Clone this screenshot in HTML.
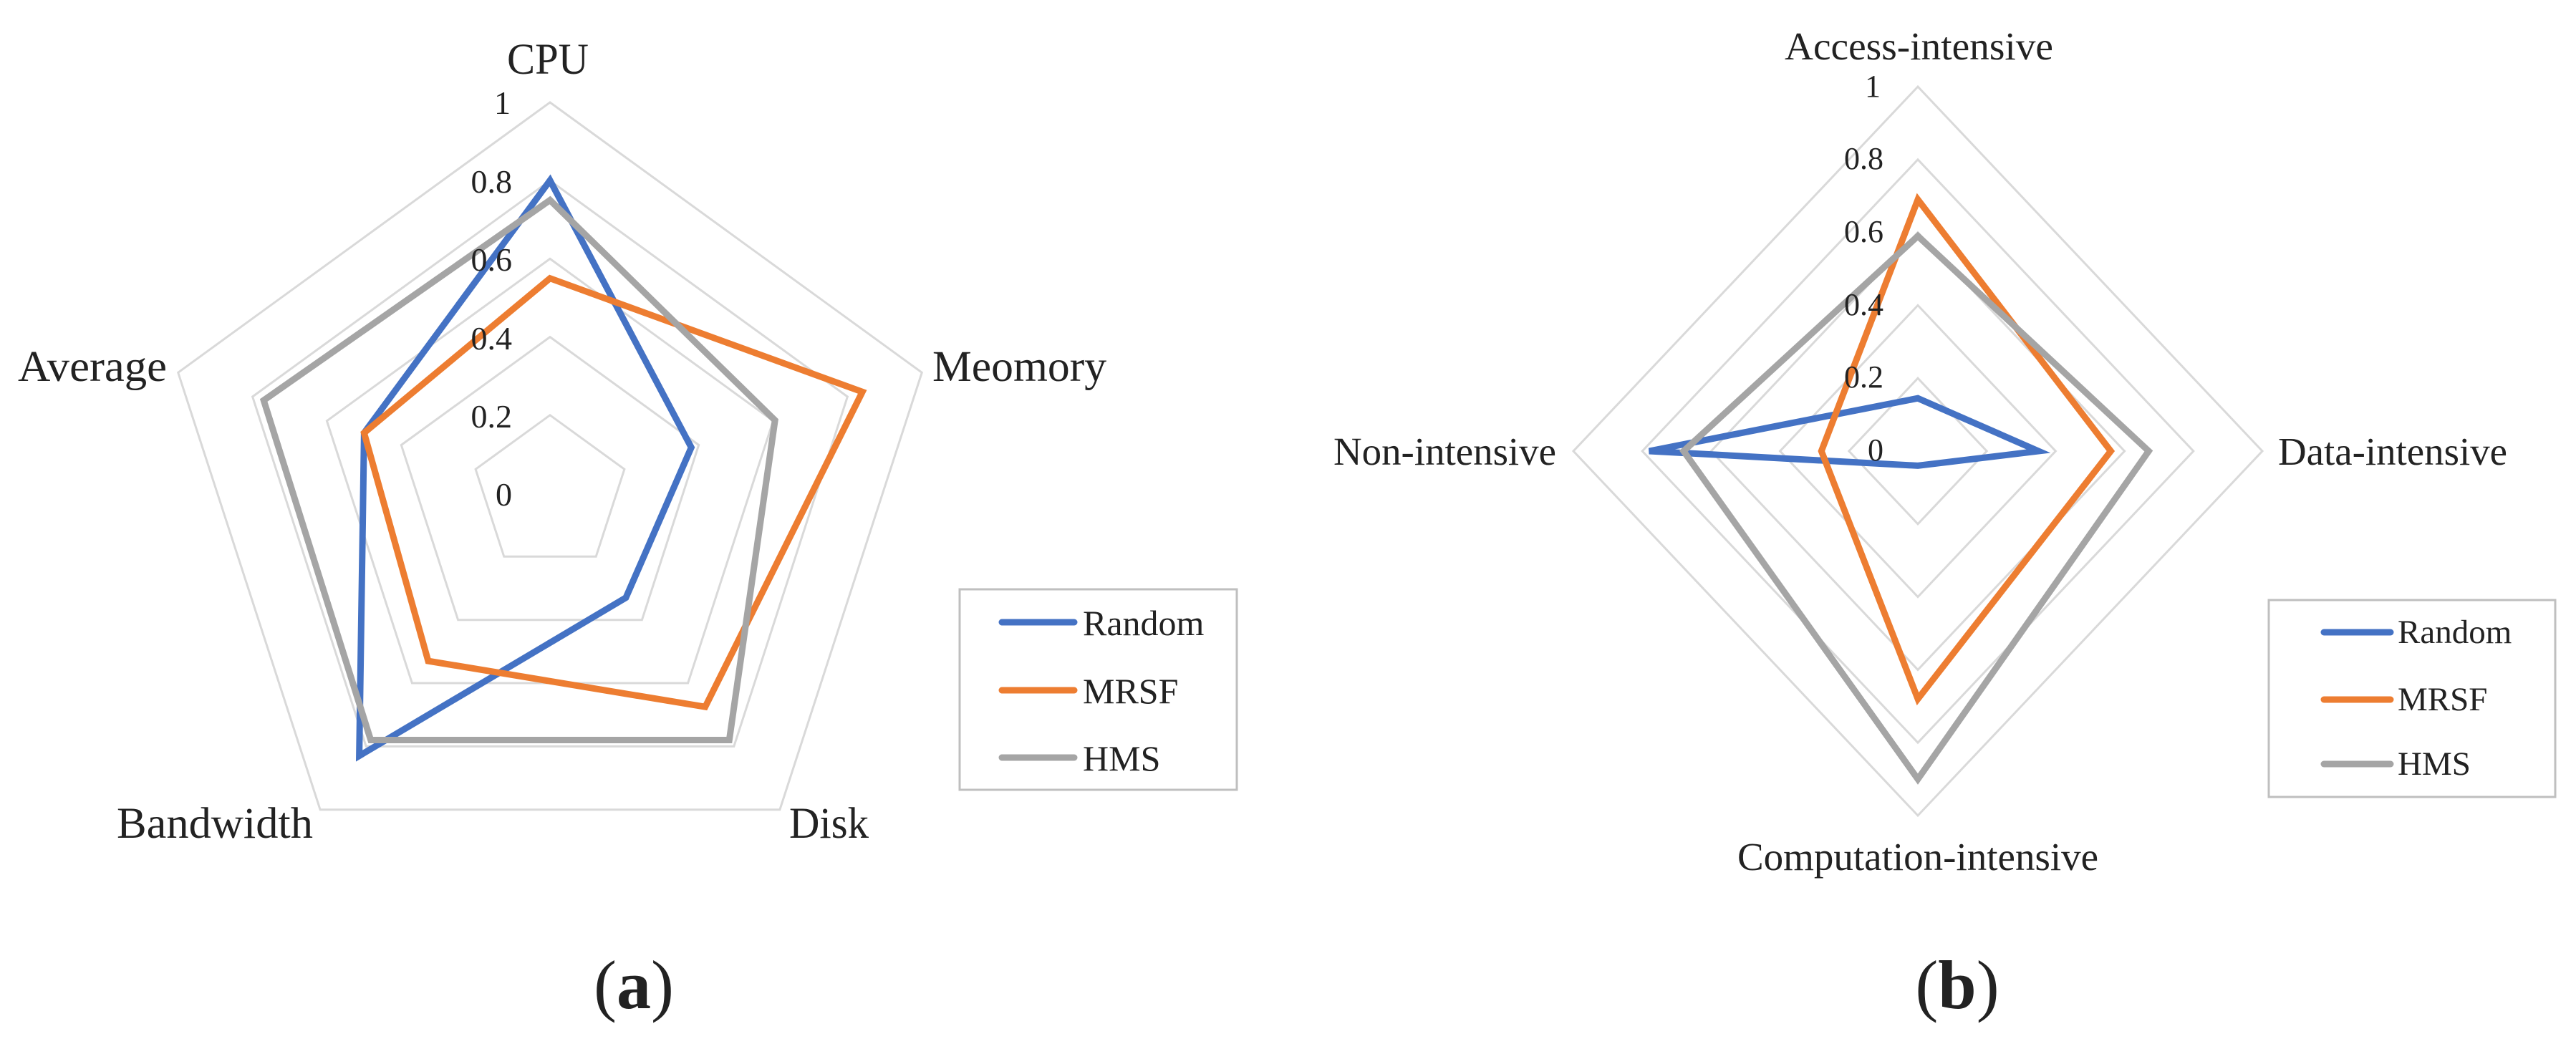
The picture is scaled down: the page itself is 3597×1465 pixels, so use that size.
<!DOCTYPE html>
<html><head><meta charset="utf-8"><style>
html,body{margin:0;padding:0;background:#fff;}
svg{display:block;}
text{font-family:"Liberation Serif","Times New Roman",serif;fill:#222;}
</style></head><body>
<svg width="3597" height="1465" viewBox="0 0 3597 1465" xmlns="http://www.w3.org/2000/svg">
<rect width="3597" height="1465" fill="#fff"/>
<!-- Chart A rings -->
<g fill="none" stroke="#d9d9d9" stroke-width="3" stroke-linejoin="miter">
<polygon points="768,143 1287.3,520.3 1088.9,1130.7 447.1,1130.7 248.7,520.3"/>
<polygon points="768,252.2 1183.4,554 1024.8,1042.4 511.2,1042.4 352.6,554"/>
<polygon points="768,361.4 1079.6,587.8 960.6,954 575.4,954 456.4,587.8"/>
<polygon points="768,470.6 975.7,621.5 896.4,865.7 639.6,865.7 560.3,621.5"/>
<polygon points="768,579.8 871.9,655.3 832.2,777.3 703.8,777.3 664.1,655.3"/>
</g>
<g fill="none" stroke-width="9" stroke-linejoin="miter">
<polygon stroke="#4472C4" points="768,252 965.3,624.9 873.9,834.8 501.6,1055.6 508.4,604.6"/>
<polygon stroke="#ED7D31" points="768,388.7 1204.2,547.3 984.7,987.2 597.9,923.1 508.4,604.6"/>
<polygon stroke="#A5A5A5" points="768,279.5 1082.2,587 1018.3,1033.5 517.7,1033.5 368.2,559.1"/>
</g>
<g font-size="46" text-anchor="end">
<text x="713" y="159">1</text>
<text x="715" y="269">0.8</text>
<text x="715" y="378">0.6</text>
<text x="715" y="488">0.4</text>
<text x="715" y="597">0.2</text>
<text x="715" y="706">0</text>
</g>
<g font-size="61">
<text x="708" y="103" textLength="114" lengthAdjust="spacingAndGlyphs">CPU</text>
<text x="1302" y="532" textLength="243" lengthAdjust="spacingAndGlyphs">Meomory</text>
<text x="25" y="532" textLength="208" lengthAdjust="spacingAndGlyphs">Average</text>
<text x="163" y="1170" textLength="274" lengthAdjust="spacingAndGlyphs">Bandwidth</text>
<text x="1102" y="1170" textLength="111" lengthAdjust="spacingAndGlyphs">Disk</text>
</g>
<!-- Legend A -->
<rect x="1340" y="823" width="387" height="280" fill="#fff" stroke="#bfbfbf" stroke-width="3"/>
<g stroke-width="9" stroke-linecap="round">
<line x1="1399" y1="869" x2="1500" y2="869" stroke="#4472C4"/>
<line x1="1399" y1="964" x2="1500" y2="964" stroke="#ED7D31"/>
<line x1="1399" y1="1058" x2="1500" y2="1058" stroke="#A5A5A5"/>
</g>
<g font-size="50">
<text x="1512" y="887">Random</text>
<text x="1512" y="982">MRSF</text>
<text x="1512" y="1076">HMS</text>
</g>
<!-- Chart B rings -->
<g fill="none" stroke="#d9d9d9" stroke-width="3">
<polygon points="2678,121 3159,630 2678,1139 2197,630"/>
<polygon points="2678,222.8 3062.8,630 2678,1037.2 2293.2,630"/>
<polygon points="2678,324.6 2966.6,630 2678,935.4 2389.4,630"/>
<polygon points="2678,426.4 2870.4,630 2678,833.6 2485.6,630"/>
<polygon points="2678,528.2 2774.2,630 2678,731.8 2581.8,630"/>
</g>
<g fill="none" stroke-width="9" stroke-linejoin="miter">
<polygon stroke="#4472C4" points="2678,556.2 2846.4,630 2678,650.4 2302.8,630"/>
<polygon stroke="#ED7D31" points="2678,278.8 2947.4,630 2678,976.1 2543.3,630"/>
<polygon stroke="#A5A5A5" points="2678,329.7 3000.3,630 2678,1088.1 2350.9,630"/>
</g>
<g font-size="44" text-anchor="end">
<text x="2626" y="135">1</text>
<text x="2630" y="236">0.8</text>
<text x="2630" y="338">0.6</text>
<text x="2630" y="440">0.4</text>
<text x="2630" y="541">0.2</text>
<text x="2630" y="643">0</text>
</g>
<g font-size="55">
<text x="2492" y="83" textLength="375" lengthAdjust="spacingAndGlyphs">Access-intensive</text>
<text x="1862" y="649" textLength="311" lengthAdjust="spacingAndGlyphs">Non-intensive</text>
<text x="3181" y="649" textLength="320" lengthAdjust="spacingAndGlyphs">Data-intensive</text>
<text x="2678" y="1215" text-anchor="middle">Computation-intensive</text>
</g>
<!-- Legend B -->
<rect x="3168" y="838" width="400" height="275" fill="#fff" stroke="#bfbfbf" stroke-width="3"/>
<g stroke-width="9" stroke-linecap="round">
<line x1="3245" y1="883" x2="3338" y2="883" stroke="#4472C4"/>
<line x1="3245" y1="977" x2="3338" y2="977" stroke="#ED7D31"/>
<line x1="3245" y1="1067" x2="3338" y2="1067" stroke="#A5A5A5"/>
</g>
<g font-size="47">
<text x="3348" y="898">Random</text>
<text x="3348" y="992">MRSF</text>
<text x="3348" y="1082">HMS</text>
</g>
<!-- Captions -->
<g font-size="96">
<text x="885" y="1408" text-anchor="middle">(<tspan font-weight="bold">a</tspan>)</text>
<text x="2733" y="1408" text-anchor="middle">(<tspan font-weight="bold">b</tspan>)</text>
</g>
</svg>
</body></html>
